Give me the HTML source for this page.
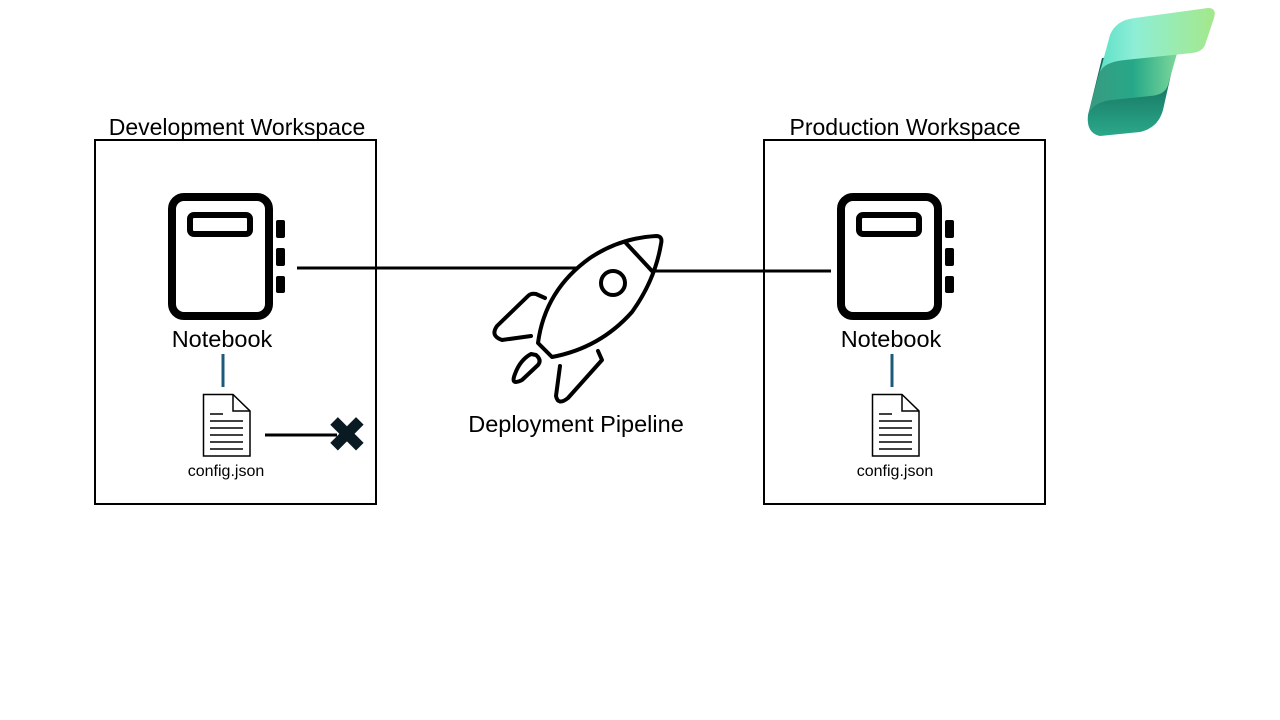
<!DOCTYPE html>
<html><head><meta charset="utf-8"><style>
html,body{margin:0;padding:0;background:#fff;width:1280px;height:720px;overflow:hidden}
svg text{font-family:"Liberation Sans",sans-serif;fill:#000}
</style></head><body>
<svg width="1280" height="720" viewBox="0 0 1280 720" xmlns="http://www.w3.org/2000/svg">
<defs>
<linearGradient id="g1" x1="0" y1="0" x2="1" y2="0"><stop offset="0" stop-color="#5fe0c8"/><stop offset="0.3" stop-color="#8eeed6"/><stop offset="1" stop-color="#a4e88a"/></linearGradient>
<linearGradient id="g2" x1="0" y1="0" x2="1" y2="0"><stop offset="0" stop-color="#3a9a80"/><stop offset="0.5" stop-color="#26a888"/><stop offset="1" stop-color="#7ed89a"/></linearGradient>
<linearGradient id="g3" x1="0" y1="0" x2="0" y2="1"><stop offset="0" stop-color="#0d5a4a"/><stop offset="1" stop-color="#2aa88a"/></linearGradient>
<g id="nb">
<rect x="172" y="197" width="97" height="119" rx="12" fill="none" stroke="#000" stroke-width="8"/>
<rect x="190" y="215" width="60" height="19" rx="4" fill="none" stroke="#000" stroke-width="6"/>
<rect x="276" y="220" width="9" height="18" rx="2" fill="#000"/>
<rect x="276" y="248" width="9" height="18" rx="2" fill="#000"/>
<rect x="276" y="276" width="9" height="17" rx="2" fill="#000"/>
</g>
<g id="doc">
<path d="M203.5 394.5 H233 L250 411 V456 H203.5 Z" fill="#fff" stroke="#000" stroke-width="1.5"/>
<path d="M233 394.5 V411 H250" fill="none" stroke="#000" stroke-width="1.5"/>
<path d="M210 414H223M210 421H243M210 428H243M210 435H243M210 442H243M210 449H243" stroke="#000" stroke-width="1.5"/>
</g>
</defs>
<!-- logo -->
<path d="M1100 136 Q1086 133 1088 115 L1102 58 L1176 52 L1163 110 Q1158 128 1140 132 Z" fill="url(#g3)"/>
<path d="M1088 115 L1100 70 Q1105 58 1125 56 L1178 50 L1168 85 Q1165 95 1150 96 L1112 100 Q1093 102 1088 115 Z" fill="url(#g2)"/>
<path d="M1100 72 L1110 35 Q1116 20 1135 18 L1208 8 Q1217 8 1214 18 L1205 45 Q1202 52 1192 53 L1125 60 Q1104 62 1100 72 Z" fill="url(#g1)"/>
<!-- boxes -->
<rect x="95" y="140" width="281" height="364" fill="none" stroke="#000" stroke-width="2"/>
<rect x="764" y="140" width="281" height="364" fill="none" stroke="#000" stroke-width="2"/>
<text x="237" y="135" font-size="23" text-anchor="middle">Development Workspace</text>
<text x="905" y="135" font-size="23" text-anchor="middle">Production Workspace</text>
<use href="#nb"/>
<use href="#nb" transform="translate(669,0)"/>
<text x="222" y="347" font-size="23.5" text-anchor="middle">Notebook</text>
<text x="891" y="347" font-size="23.5" text-anchor="middle">Notebook</text>
<line x1="223" y1="354" x2="223" y2="387" stroke="#1b5a7a" stroke-width="3"/>
<line x1="892" y1="354" x2="892" y2="387" stroke="#1b5a7a" stroke-width="3"/>
<use href="#doc"/>
<use href="#doc" transform="translate(669,0)"/>
<text x="226" y="476" font-size="16" text-anchor="middle">config.json</text>
<text x="895" y="476" font-size="16" text-anchor="middle">config.json</text>
<line x1="265" y1="435" x2="337" y2="435" stroke="#000" stroke-width="3"/>
<text x="347" y="452" font-size="50" text-anchor="middle" style="fill:#0a1a22;font-family:'DejaVu Sans',sans-serif">✖</text>
<!-- connectors -->
<line x1="297" y1="268" x2="577" y2="268" stroke="#000" stroke-width="3"/>
<line x1="652" y1="271" x2="831" y2="271" stroke="#000" stroke-width="3"/>
<!-- rocket -->
<g fill="none" stroke="#000" stroke-width="4" stroke-linecap="round" stroke-linejoin="round">
<path d="M538 343 Q545 290 590 258 Q620 238 656 236 Q663 236 661 244 Q655 280 632 312 Q600 348 552 357 Z"/>
<path d="M625 242 L652 271"/>
<circle cx="613" cy="283" r="12"/>
<path d="M545 298 L536 294 Q531 293 528 296 L497 326 Q490 336 502 340 L531 336"/>
<path d="M598 351 L602 360 L568 398 Q558 406 556 396 L560 366"/>
<path d="M536 355 Q542 360 538 365 L522 380 Q510 386 515 374 Q520 360 531 354 Z"/>
</g>
<text x="576" y="432" font-size="23.5" text-anchor="middle">Deployment Pipeline</text>
</svg>
</body></html>
